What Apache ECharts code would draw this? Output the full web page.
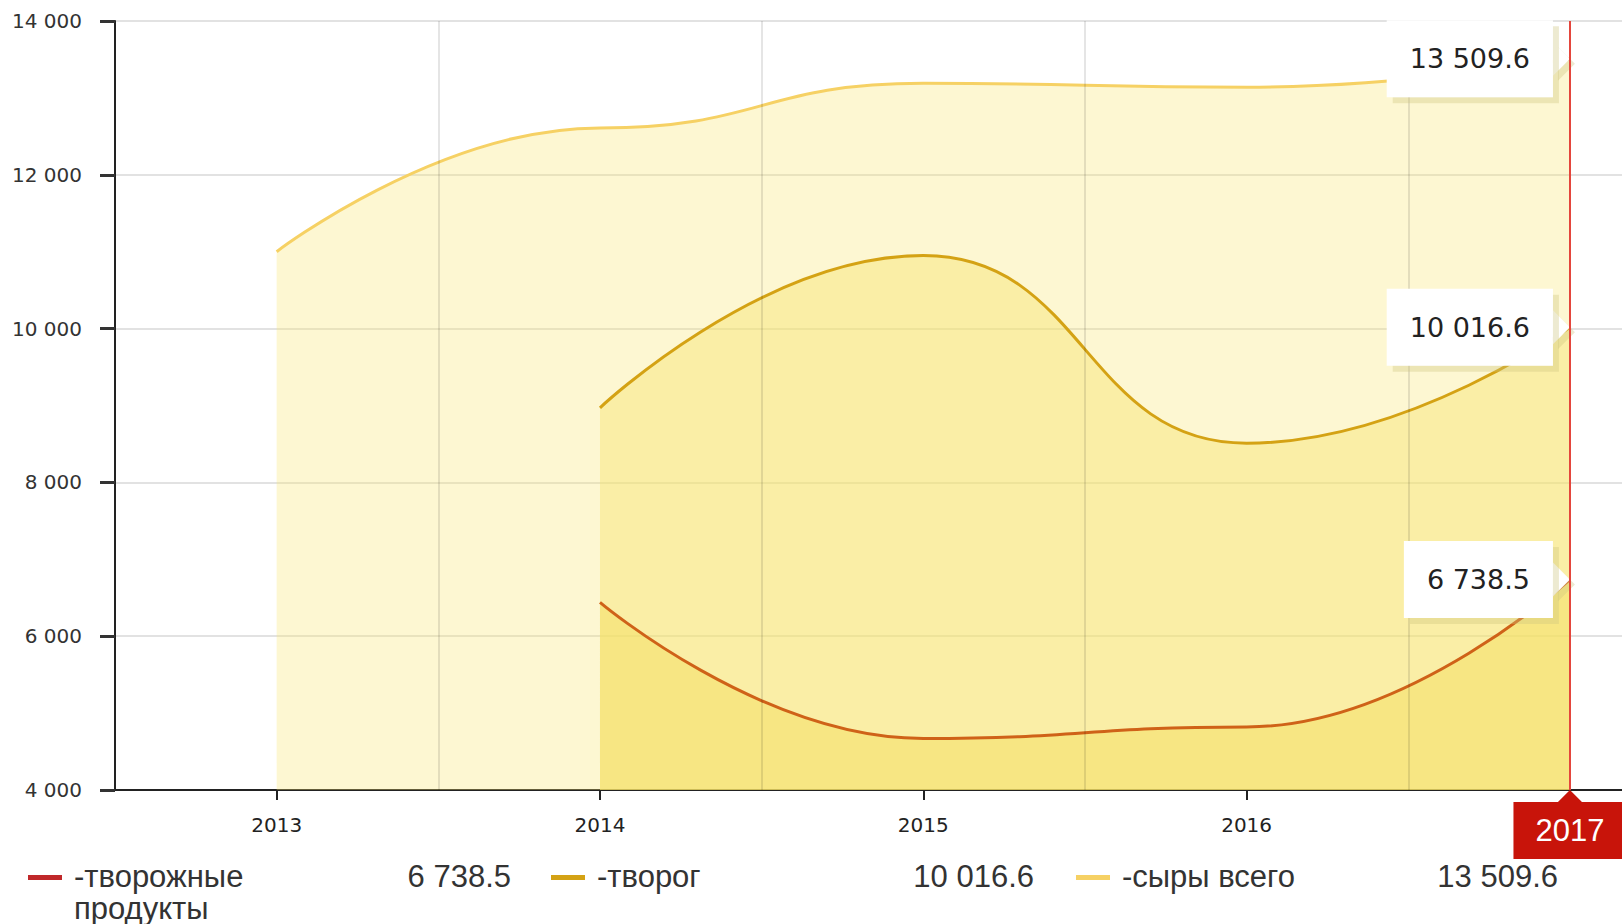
<!DOCTYPE html>
<html>
<head>
<meta charset="utf-8">
<script src="https://cdn.jsdelivr.net/npm/echarts@6/dist/echarts.min.js"></script>
<style>
html,body{margin:0;padding:0;background:#fff;}
#chart{width:1622px;height:924px;}
</style>
</head>
<body>
<div id="chart"></div>
<script>
// ---- data ----
const years = [2013, 2014, 2015, 2016, 2017];
const seriesNames = ['творожные продукты', 'творог', 'сыры всего'];
const legendLabels = ['-творожные\nпродукты', '-творог', '-сыры всего'];
const tvorProd = [null, 6440, 4670, 4820, 6738.5];
const tvorog = [null, 8970, 10950, 8510, 10016.6];
const syry = [11000, 12610, 13190, 13140, 13509.6];
const halfYearGrid = [2013.5, 2014.5, 2015.5, 2016.5];
const yearTicks = [2013, 2014, 2015, 2016];
const currentYear = 2017;

// ---- styles ----
const lineColors = ['#cf6218', '#d4a214', '#f6d164'];
const legendColors = ['#c0282a', '#d4a214', '#f6d164'];
const areaColors = ['rgba(244,222,100,0.52)', 'rgba(246,226,106,0.42)', 'rgba(247,228,110,0.31)'];

function fmt(v, dec) {
  const s = dec ? v.toFixed(dec) : String(Math.round(v));
  const parts = s.split('.');
  const intPart = parts[0].replace(/\B(?=(\d{3})+(?!\d))/g, ' ');
  return parts.length > 1 ? intPart + '.' + parts[1] : intPart;
}

const allValues = [tvorProd, tvorog, syry];

function buildData(vals) {
  const out = [];
  vals.forEach(function (v, i) {
    if (v == null) return;
    out.push([years[i], v]);
  });
  return out;
}

const series = [];
// vertical half-year grid lines
series.push({
  type: 'line', name: 'grid', data: [], z: 1, silent: true,
  markLine: {
    silent: true, symbol: ['none', 'none'], animation: false,
    label: { show: false },
    lineStyle: { color: 'rgba(0,0,0,0.10)', width: 2, type: 'solid' },
    data: halfYearGrid.map(function (x) { return { xAxis: x }; })
  }
});

const shadowCol = 'rgba(205,195,125,0.35)';

// draw order: сыры (bottom), творог, творожные (top)
[2, 1, 0].forEach(function (k, order) {
  const vals = allValues[k];
  const last = vals[vals.length - 1];
  series.push({
    type: 'line',
    name: seriesNames[k],
    data: buildData(vals),
    smooth: 0.5,
    smoothMonotone: 'x',
    showSymbol: false,
    z: 2 + order,
    lineStyle: { color: lineColors[k], width: 3 },
    itemStyle: { color: lineColors[k] },
    areaStyle: { color: areaColors[k], opacity: 1, origin: 'start' },
    markPoint: {
      silent: true, animation: false, z: 20,
      symbol: 'path://M0,0L17,17L0,34Z',
      symbolSize: [17, 34],
      symbolOffset: [-8.5, 0],
      symbolKeepAspect: false,
      itemStyle: {
        color: '#ffffff',
        shadowColor: shadowCol,
        shadowOffsetX: 5, shadowOffsetY: 5, shadowBlur: 0
      },
      label: {
        show: true,
        position: 'left',
        distance: 0,
        formatter: function (p) { return fmt(p.value, 1); },
        backgroundColor: '#ffffff',
        padding: [24, 23, 23, 23],
        lineHeight: 30,
        fontSize: 27,
        fontFamily: 'DejaVu Sans',
        color: '#222',
        shadowColor: shadowCol,
        shadowOffsetX: 6,
        shadowOffsetY: 6,
        shadowBlur: 0
      },
      data: [{ coord: [years[years.length - 1], last], value: last }]
    }
  });
});

// current year red line + label
series.push({
  type: 'line', name: 'current', data: [], z: 30, silent: true,
  markLine: {
    silent: true, symbol: ['none', 'none'], animation: false, z: 30,
    lineStyle: { color: '#e4463d', width: 2, type: 'solid' },
    label: {
      show: true, position: 'start', distance: 12,
      formatter: String(currentYear),
      backgroundColor: '#c8140a',
      color: '#ffffff',
      fontSize: 31,
      fontFamily: 'Liberation Sans',
      padding: [12, 22, 12, 22],
      lineHeight: 33
    },
    data: [{ xAxis: currentYear }]
  },
  markPoint: {
    silent: true, animation: false, z: 30,
    symbol: 'path://M0,12L12,0L24,12Z',
    symbolSize: [24, 12],
    symbolOffset: [0, 6],
    symbolKeepAspect: false,
    label: { show: false },
    itemStyle: { color: '#c8140a' },
    data: [{ coord: [currentYear, 4000] }]
  }
});

// legend as graphic elements
const legendX = [28, 551, 1076];
const legendValueRight = [511, 1034, 1558];
const graphicEls = [];
seriesNames.forEach(function (n, i) {
  const vals = allValues[i];
  graphicEls.push({
    type: 'rect', left: legendX[i], top: 875,
    shape: { width: 34, height: 5 },
    style: { fill: legendColors[i] }
  });
  graphicEls.push({
    type: 'text', left: legendX[i] + 46, top: 860,
    style: {
      text: legendLabels[i], fill: '#333',
      font: '31px "Liberation Sans"', lineHeight: 32
    }
  });
  graphicEls.push({
    type: 'text', right: 1622 - legendValueRight[i], top: 860,
    style: {
      text: fmt(vals[vals.length - 1], 1), fill: '#333',
      font: '31px "Liberation Sans"', lineHeight: 32, align: 'right'
    }
  });
});

const chart = echarts.init(document.getElementById('chart'), null, { renderer: 'svg' });
chart.setOption({
  animation: false,
  backgroundColor: '#ffffff',
  grid: { left: 115, right: 0, top: 21, bottom: 134, containLabel: false },
  xAxis: {
    type: 'value',
    min: 2012.5,
    max: 2017.161,
    axisLine: { show: true, onZero: false, lineStyle: { color: '#222', width: 2 } },
    axisTick: { show: true, length: 10, customValues: yearTicks, lineStyle: { color: '#222', width: 2 } },
    axisLabel: {
      show: true, customValues: yearTicks, margin: 25,
      color: '#222', fontSize: 20, fontFamily: 'DejaVu Sans',
      formatter: function (v) { return String(v); }
    },
    splitLine: { show: false }
  },
  yAxis: {
    type: 'value',
    min: 4000, max: 14000, interval: 2000,
    axisLine: { show: true, lineStyle: { color: '#222', width: 2 } },
    axisTick: { show: true, length: 15, lineStyle: { color: '#333', width: 3 } },
    axisLabel: {
      color: '#333', fontSize: 20, fontFamily: 'DejaVu Sans', margin: 33,
      formatter: function (v) { return fmt(v, 0); }
    },
    splitLine: { show: true, lineStyle: { color: '#e2e2e2', width: 2 } }
  },
  series: series,
  graphic: { elements: graphicEls }
});
</script>
</body>
</html>
